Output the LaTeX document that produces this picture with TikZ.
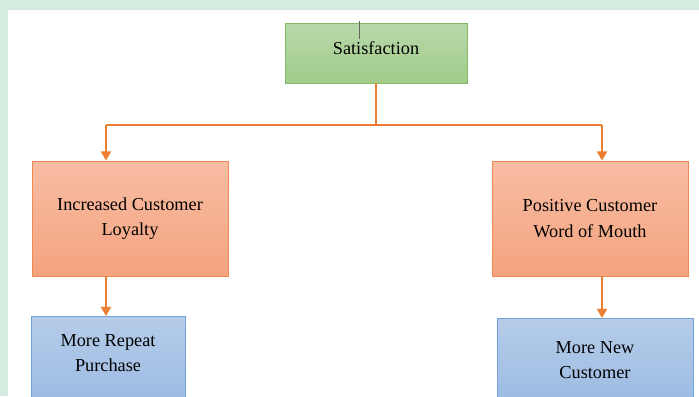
\documentclass[tikz,border=0pt]{standalone}
\usepackage{fontspec}
\setmainfont{Liberation Serif}
\usetikzlibrary{arrows.meta}

\definecolor{mint}{HTML}{D4ECE0}
\definecolor{satline}{HTML}{82B866}
\definecolor{sattop}{HTML}{B8D8A9}
\definecolor{satbot}{HTML}{A1CC8B}
\definecolor{effline}{HTML}{F08A50}
\definecolor{efftop}{HTML}{F8BDA4}
\definecolor{effbot}{HTML}{F4A37F}
\definecolor{resline}{HTML}{72A2D8}
\definecolor{restop}{HTML}{B5CCE9}
\definecolor{resbot}{HTML}{99B9E2}
\definecolor{linkorange}{HTML}{ED7D31}

\begin{document}
\begin{tikzpicture}[
    box/.style={line width=0.6pt, align=center, inner sep=0pt,
        font=\fontsize{13}{18}\selectfont},
    satbox/.style={box, draw=satline, top color=sattop, bottom color=satbot,
        minimum width=4.55cm, minimum height=1.5cm, text depth=0.25cm},
    effbox/.style={box, draw=effline, top color=efftop, bottom color=effbot,
        minimum width=4.9cm, minimum height=2.875cm},
    resbox/.style={box, draw=resline, top color=restop, bottom color=resbot,
        minimum height=2.4cm, anchor=north},
    link/.style={draw=linkorange, line width=1.4pt},
    arrow/.style={link, -{Triangle[length=2.3mm, width=2.5mm]}}]

    \useasboundingbox (0, 0) rectangle (17.475, -9.9);
    \clip (0, 0) rectangle (17.475, -9.9);

    % page background
    \fill [mint] (0, 0) rectangle (17.475, -9.9);
    \fill [white] (0.2, -0.26) rectangle (17.475, -9.9);

    % boxes
    \node [satbox] (sat) at (9.4, -1.325) {Satisfaction};
    \node [effbox] (loyal) at (3.25, -5.4625) {Increased Customer\\Loyalty};
    \node [effbox] (word) at (14.75, -5.4625) {Positive Customer\\Word of Mouth};
    \node [resbox, minimum width=3.85cm] (repeat) at (2.7, -7.9) {};
    \node [resbox, minimum width=4.9cm] (new) at (14.875, -7.95) {};
    \node [box] (repeattext) at ([yshift=-0.925cm] repeat.north) {More Repeat\\Purchase};
    \node [box] (newtext) at ([yshift=-1.05cm] new.north) {More New\\Customer};

    % cursor mark
    \draw [gray!80!black, line width=0.6pt] (8.975, -0.52) -- (8.975, -0.98);

    % connectors
    \coordinate (jl) at (2.65, -3.125);
    \coordinate (jr) at (15.05, -3.125);
    \draw [link] (sat.south) -- (sat.south |- jl);
    \draw [link] (jl) -- (jr);
    \draw [arrow] (jl) -- (jl |- loyal.north);
    \draw [arrow] (jr) -- (jr |- word.north);
    \draw [arrow] (jl |- loyal.south) -- (jl |- repeat.north);
    \draw [arrow] (jr |- word.south) -- (jr |- new.north);
\end{tikzpicture}
\end{document}
